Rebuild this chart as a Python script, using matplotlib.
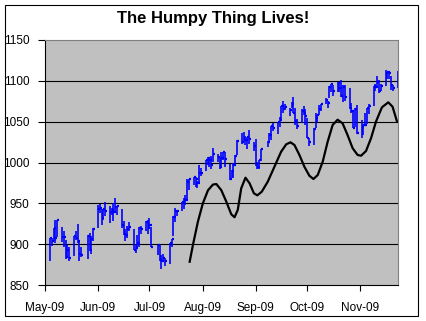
import matplotlib
matplotlib.use("Agg")
import matplotlib.pyplot as plt
import matplotlib.dates as mdates
from matplotlib.patches import Rectangle
import numpy as np

plt.rcParams['font.family'] = ['Liberation Sans', 'DejaVu Sans']

# daily high / low / close (2009)
dates = ["05-04", "05-05", "05-06", "05-07", "05-08", "05-11", "05-12", "05-13", "05-14", "05-15",
         "05-18", "05-19", "05-20", "05-21", "05-22", "05-26", "05-27", "05-28", "05-29",
         "06-01", "06-02", "06-03", "06-04", "06-05", "06-08", "06-09", "06-10", "06-11", "06-12",
         "06-15", "06-16", "06-17", "06-18", "06-19", "06-22", "06-23", "06-24", "06-25", "06-26",
         "06-29", "06-30",
         "07-01", "07-02", "07-06", "07-07", "07-08", "07-09", "07-10", "07-13", "07-14", "07-15",
         "07-16", "07-17", "07-20", "07-21", "07-22", "07-23", "07-24", "07-27", "07-28", "07-29",
         "07-30", "07-31",
         "08-03", "08-04", "08-05", "08-06", "08-07", "08-10", "08-11", "08-12", "08-13", "08-14",
         "08-17", "08-18", "08-19", "08-20", "08-21", "08-24", "08-25", "08-26", "08-27", "08-28",
         "08-31",
         "09-01", "09-02", "09-03", "09-04", "09-08", "09-09", "09-10", "09-11", "09-14", "09-15",
         "09-16", "09-17", "09-18", "09-21", "09-22", "09-23", "09-24", "09-25", "09-28", "09-29",
         "09-30",
         "10-01", "10-02", "10-05", "10-06", "10-07", "10-08", "10-09", "10-12", "10-13", "10-14",
         "10-15", "10-16", "10-19", "10-20", "10-21", "10-22", "10-23", "10-26", "10-27", "10-28",
         "10-29", "10-30",
         "11-02", "11-03", "11-04", "11-05", "11-06", "11-09", "11-10", "11-11", "11-12", "11-13",
         "11-16", "11-17", "11-18", "11-19", "11-20", "11-23"]

high = [907.9, 907.7, 919.9, 929.6, 930.2, 921.2, 915.6, 905.4, 898.4, 897.0,
        910.0, 916.4, 924.6, 903.5, 896.7, 911.8, 913.8, 909.5, 920.0,
        947.8, 949.4, 942.5, 942.5, 951.7, 946.3, 944.6, 949.8, 956.2, 946.3,
        942.5, 928.0, 918.4, 921.9, 927.1, 918.1, 898.7, 910.9, 921.4, 922.0,
        928.0, 930.0,
        931.9, 921.2, 898.7, 898.6, 886.8, 887.9, 883.6, 901.1, 905.8, 934.0,
        944.0, 941.9, 951.6, 956.5, 959.8, 979.4, 979.8, 982.5, 982.2, 977.8,
        996.7, 993.2,
        1003.6, 1007.1, 1006.6, 1008.0, 1018.0, 1010.1, 1005.8, 1012.8, 1013.1, 1012.6,
        998.4, 991.2, 999.6, 1008.9, 1027.6, 1035.8, 1037.8, 1032.5, 1031.6, 1039.5,
        1025.2,
        1028.5, 1000.3, 1003.4, 1016.5, 1026.1, 1036.3, 1044.1, 1048.2, 1049.7, 1056.0,
        1068.8, 1074.8, 1071.5, 1067.3, 1073.8, 1080.2, 1066.3, 1053.5, 1065.1, 1069.6,
        1065.6,
        1054.6, 1030.6, 1042.6, 1060.6, 1058.0, 1070.7, 1071.5, 1079.5, 1075.3, 1093.2,
        1096.6, 1094.7, 1098.6, 1098.1, 1101.4, 1095.2, 1094.8, 1091.8, 1072.5, 1063.3,
        1066.8, 1070.2,
        1052.2, 1046.2, 1061.0, 1066.7, 1071.5, 1093.2, 1096.1, 1105.4, 1101.2, 1096.4,
        1113.7, 1110.3, 1111.1, 1105.4, 1094.9, 1112.4]

low = [879.2, 897.3, 903.3, 901.4, 909.0, 903.1, 896.5, 882.0, 882.5, 878.9,
       886.1, 905.2, 901.4, 879.0, 883.8, 881.5, 891.9, 887.6, 903.6,
       919.7, 938.5, 923.9, 929.3, 934.1, 926.4, 935.7, 928.0, 939.0, 935.7,
       919.7, 911.6, 903.8, 907.9, 915.8, 893.0, 888.9, 896.3, 896.3, 913.0,
       916.2, 912.9,
       920.8, 896.4, 886.4, 879.9, 869.3, 878.5, 872.8, 875.3, 896.5, 910.2,
       927.5, 934.7, 941.0, 943.2, 947.8, 953.3, 966.0, 972.3, 969.4, 968.7,
       976.1, 982.9,
       990.2, 996.7, 994.3, 992.5, 1001.0, 1001.0, 992.4, 993.4, 1003.5, 994.6,
       978.5, 980.6, 980.6, 996.4, 1009.1, 1022.5, 1026.2, 1021.6, 1016.1, 1023.1,
       1014.6,
       996.3, 992.0, 992.3, 1001.7, 1018.7, 1024.0, 1028.0, 1038.4, 1035.0, 1043.4,
       1052.9, 1061.2, 1064.3, 1057.5, 1066.4, 1060.4, 1045.9, 1041.2, 1048.6, 1057.8,
       1045.6,
       1029.9, 1020.0, 1020.9, 1042.3, 1050.1, 1057.6, 1063.0, 1071.6, 1066.7, 1078.7,
       1086.4, 1081.5, 1086.2, 1086.2, 1080.8, 1074.3, 1074.9, 1065.2, 1060.6, 1042.2,
       1043.4, 1034.4,
       1029.4, 1034.0, 1045.2, 1047.1, 1059.3, 1069.3, 1087.1, 1093.8, 1085.7, 1087.5,
       1093.9, 1102.2, 1102.7, 1089.1, 1087.4, 1091.4]

close = [907.2, 903.8, 919.5, 907.4, 929.2, 909.2, 908.4, 883.9, 893.1, 882.9,
         909.7, 908.1, 903.5, 888.3, 887.0, 910.3, 893.1, 906.8, 919.1,
         942.9, 944.7, 931.8, 942.5, 940.1, 939.1, 942.4, 939.2, 944.9, 946.2,
         923.7, 912.0, 910.7, 918.4, 921.2, 893.0, 895.1, 900.9, 920.3, 918.9,
         927.2, 919.3,
         923.3, 896.4, 898.7, 881.0, 879.6, 882.7, 879.1, 901.1, 905.8, 932.7,
         940.7, 940.4, 951.1, 954.6, 954.1, 976.3, 979.3, 982.2, 979.6, 975.2,
         986.8, 987.5,
         1002.6, 1005.7, 1002.7, 997.1, 1010.5, 1007.1, 994.4, 1005.8, 1012.7, 1004.1,
         979.7, 989.7, 996.5, 1007.4, 1026.1, 1025.6, 1028.0, 1028.1, 1031.0, 1028.9,
         1020.6,
         998.0, 994.8, 1003.2, 1016.4, 1025.4, 1033.4, 1044.1, 1042.7, 1049.3, 1052.6,
         1068.8, 1065.5, 1068.3, 1064.7, 1071.7, 1060.9, 1050.8, 1044.4, 1063.0, 1060.6,
         1057.1,
         1029.9, 1025.2, 1040.5, 1054.7, 1057.6, 1065.5, 1071.5, 1076.2, 1073.2, 1092.0,
         1096.6, 1087.7, 1097.9, 1091.1, 1081.4, 1092.9, 1079.6, 1067.0, 1063.4, 1042.6,
         1066.1, 1036.2,
         1042.9, 1045.4, 1046.5, 1066.6, 1069.3, 1093.1, 1093.0, 1098.5, 1087.2, 1093.5,
         1109.3, 1110.3, 1109.8, 1094.9, 1091.4, 1106.2]

# the "humpy thing": days after 1 May 2009 and value
hump_day = [84.5, 86.4, 89.3, 92.2, 95.2, 98.1, 100.1, 103.0, 105.9, 108.8,
            110.7, 112.6, 114.6, 117.1, 119.5, 122.0, 124.0, 126.6, 130.1, 134.0,
            137.9, 140.9, 143.4, 145.7, 148.6, 151.5, 154.4, 156.8, 159.3, 162.2,
            165.1, 168.0, 170.9, 173.8, 176.7, 179.7, 182.6, 184.6, 187.5, 190.4,
            193.3, 196.8, 200.5, 203.0, 205.5]
hump_val = [878.5, 899.0, 927.5, 950.0, 966.0, 973.0, 973.6, 966.0, 952.0, 936.6,
            933.0, 942.0, 968.4, 981.4, 974.5, 962.3, 959.8, 964.2, 976.5, 994.8,
            1013.2, 1022.3, 1024.7, 1021.4, 1009.2, 994.8, 983.8, 979.8, 984.7, 1001.0,
            1025.5, 1045.9, 1052.4, 1048.0, 1033.7, 1017.4, 1009.2, 1008.3, 1014.1, 1029.6,
            1050.0, 1067.6, 1073.7, 1068.3, 1050.8]

x = mdates.datestr2num(["2009-" + d for d in dates])
start = mdates.datestr2num("2009-05-01")
end = mdates.datestr2num("2009-11-23")

fig = plt.figure(figsize=(4.26, 3.21), dpi=100)
fig.add_artist(Rectangle((5 / 426, 1 - 316 / 321), 413 / 426, 311 / 321,
                         transform=fig.transFigure, fill=False, ec="black", lw=0.8))
fig.text(213 / 426, 1 - 19 / 321, "The Humpy Thing Lives!", ha="center", va="center",
         fontsize=12, fontweight="bold")

ax = fig.add_axes([45 / 426, 1 - 285 / 321, 352.7 / 426, 245 / 321])
ax.set_facecolor("#c0c0c0")

ax.vlines(x, low, high, color="#0000ff", lw=1.2, zorder=3)
ax.hlines(close, x, x + 1.3, color="#0000ff", lw=1.6, zorder=3)
ax.plot(start + np.array(hump_day), hump_val, color="black", lw=1.6, zorder=4,
        solid_joinstyle="round")

ax.set_xlim(start, end)
ax.set_ylim(850, 1150)
ax.set_yticks(np.arange(850, 1151, 50))
ax.xaxis.set_major_locator(mdates.MonthLocator())
ax.xaxis.set_major_formatter(mdates.DateFormatter("%b-%y"))

ax.grid(axis="y", color="black", lw=0.8, zorder=1)
ax.set_axisbelow(True)
gl = ax.get_ygridlines()
gl[0].set_visible(False)
gl[-1].set_visible(False)

for s in ["top", "right"]:
    ax.spines[s].set_color("#808080")
ax.spines["left"].set_color("black")
ax.spines["bottom"].set_color("black")
ax.tick_params(axis="y", length=5, width=0.8, pad=6, labelsize=8.5)
ax.tick_params(axis="x", length=4, width=0.8, pad=8, labelsize=8.5)

plt.savefig("out.png", dpi=100)
